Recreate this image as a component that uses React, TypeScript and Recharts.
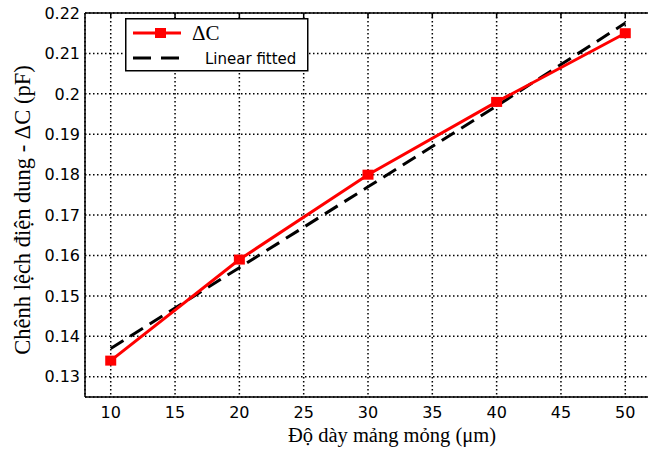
import React from "react";
import { LineChart, Line, XAxis, YAxis, CartesianGrid, Legend, Label } from "recharts";

// film thickness (um)
const thickness = [10, 20, 30, 40, 50];
// measured capacitance difference (pF)
const deltaC = [0.134, 0.159, 0.18, 0.198, 0.215];
// linear fit
const linearFit = [0.137, 0.157, 0.177, 0.197, 0.2175];

const xTicks = [10, 15, 20, 25, 30, 35, 40, 45, 50];
const yTicks = [0.13, 0.14, 0.15, 0.16, 0.17, 0.18, 0.19, 0.2, 0.21, 0.22];

const chartData = thickness.map((x, i) => ({ x, dc: deltaC[i], fit: linearFit[i] }));

const tickFont = { fontFamily: "DejaVu Sans", fontSize: 16, fill: "#000" };

const SquareDot = (props: any) => {
  const { cx, cy } = props;
  if (cx == null || cy == null) return null;
  return <rect x={cx - 5.5} y={cy - 5} width={11} height={10} fill="#ff0000" />;
};

const LegendBox = () => (
  <svg width={184} height={54} style={{ display: "block" }}>
    <rect x={0.75} y={0.75} width={182} height={52} fill="#fff" stroke="#000" strokeWidth={1.5} />
    <line x1={8} y1={15} x2={56} y2={15} stroke="#ff0000" strokeWidth={3} />
    <rect x={30} y={10} width={11} height={10} fill="#ff0000" />
    <text x={67} y={22} fontFamily="Liberation Serif" fontSize={21} fill="#000">ΔC</text>
    <line x1={8} y1={40} x2={64} y2={40} stroke="#000" strokeWidth={3} strokeDasharray="18 10" />
    <text x={80} y={46} fontFamily="DejaVu Sans" fontSize={15} fill="#000">Linear fitted</text>
  </svg>
);

const App: React.FC = () => {
  return (
    <div style={{ position: "absolute", left: 0, top: 0, width: 648, height: 450, overflow: "hidden", background: "#fff" }}>
      <LineChart width={651} height={450} data={chartData} margin={{ top: 13, right: 0, bottom: 0, left: 0 }}>
        <CartesianGrid stroke="#000" strokeWidth={1.5} strokeDasharray="1.5 2.5" />
        <XAxis
          dataKey="x"
          type="number"
          domain={[8, 52]}
          ticks={xTicks}
          allowDataOverflow
          height={53}
          axisLine={{ stroke: "#000", strokeWidth: 1.5 }}
          tickLine={false}
          tickSize={0}
          tickMargin={10}
          tick={tickFont}
        >
          <Label
            content={({ viewBox }: any) => (
              <text
                x={viewBox.x + viewBox.width / 2 + 24}
                y={viewBox.y + 45}
                textAnchor="middle"
                fontFamily="Liberation Serif"
                fontSize={20.5}
                fill="#000"
              >
                Độ dày mảng mỏng (μm)
              </text>
            )}
          />
        </XAxis>
        <XAxis
          xAxisId="top"
          dataKey="x"
          type="number"
          orientation="top"
          mirror
          domain={[8, 52]}
          ticks={xTicks}
          axisLine={{ stroke: "#000", strokeWidth: 1.5 }}
          tickLine={{ stroke: "#000", strokeWidth: 1.5 }}
          tickSize={5}
          tickFormatter={() => ""}
        />
        <YAxis
          type="number"
          domain={[0.125, 0.22]}
          ticks={yTicks}
          allowDataOverflow
          width={85}
          axisLine={{ stroke: "#000", strokeWidth: 1.5 }}
          tickLine={false}
          tickSize={0}
          tickMargin={5}
          tick={tickFont}
          tickFormatter={(v: number) => String(v)}
        >
          <Label
            content={({ viewBox }: any) => {
              const cx = 22;
              const cy = viewBox.y + viewBox.height / 2 + 5;
              return (
                <text
                  x={cx}
                  y={cy}
                  transform={`rotate(-90, ${cx}, ${cy})`}
                  textAnchor="middle"
                  dominantBaseline="central"
                  fontFamily="Liberation Serif"
                  fontSize={22.5}
                  fill="#000"
                >
                  Chênh lệch điện dung - ΔC (pF)
                </text>
              );
            }}
          />
        </YAxis>
        <Legend
          layout="horizontal"
          verticalAlign="middle"
          align="center"
          content={() => <LegendBox />}
          wrapperStyle={{ position: "absolute", left: 125, top: 18, width: 184, height: 54 }}
        />
        <Line
          dataKey="fit"
          stroke="#000"
          strokeWidth={3}
          strokeDasharray="15 8"
          dot={false}
          activeDot={false}
          isAnimationActive={false}
        />
        <Line
          dataKey="dc"
          stroke="#ff0000"
          strokeWidth={3}
          dot={<SquareDot />}
          activeDot={false}
          isAnimationActive={false}
        />
      </LineChart>
    </div>
  );
};

export default App;
